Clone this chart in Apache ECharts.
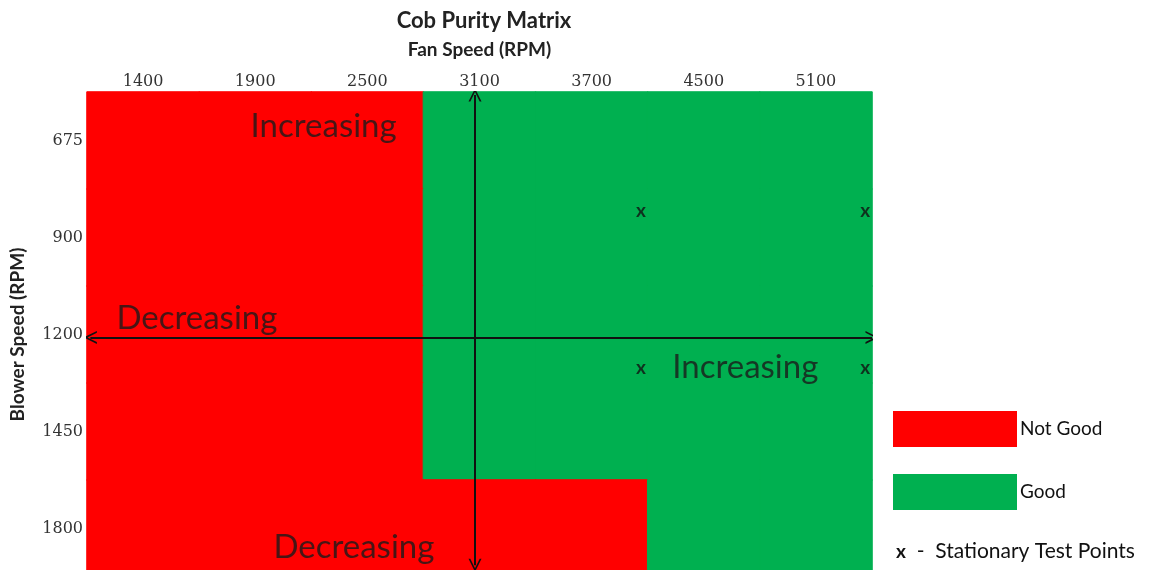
<!DOCTYPE html>
<html>
<head>
<meta charset="utf-8">
<script src="https://cdn.jsdelivr.net/npm/echarts@6/dist/echarts.min.js"></script>
<style>html,body{margin:0;padding:0;background:#fff}#c{width:1154px;height:570px}</style>
</head>
<body>
<div id="c"></div>
<script>
// Category axes
const fanSpeeds = ['1400', '1900', '2500', '3100', '3700', '4500', '5100'];
const blowerSpeeds = ['675', '900', '1200', '1450', '1800'];
// Purity status per row (blower speed) and column (fan speed): 0 = Not Good, 1 = Good
const statusRows = [
  [0, 0, 0, 1, 1, 1, 1],
  [0, 0, 0, 1, 1, 1, 1],
  [0, 0, 0, 1, 1, 1, 1],
  [0, 0, 0, 1, 1, 1, 1],
  [0, 0, 0, 0, 0, 1, 1]
];
const statusNames = ['Not Good', 'Good'];
const statusColors = ['#ff0000', '#00b050'];
// Stationary test points in cell units (column, row)
const testPointsX = [4.94, 6.94, 4.94, 6.94];
const testPointsY = [1.23, 1.23, 2.84, 2.84];
// Direction arrows in cell units
const arrowVertical = [[3.46, 0.03], [3.46, 4.88]];
const arrowHorizontal = [[0.03, 2.53], [7.0, 2.53]];
// Direction annotations in cell units
const annotText = ['Increasing', 'Decreasing', 'Increasing', 'Decreasing'];
const annotX = [2.11, 0.98, 5.87, 2.38];
const annotY = [0.35, 2.33, 2.84, 4.69];

const heatData = [];
statusRows.forEach((row, r) => row.forEach((v, c) => heatData.push({
  value: [c, r, v],
  itemStyle: { borderColor: statusColors[v], borderWidth: 1 }
})));

const chevron = 'path://M0,10 L5,0 L10,10 L8.6,10 L5,2.8 L1.4,10 Z';
const sans = 'Lato, "Open Sans", sans-serif';
const serif = '"DejaVu Serif", serif';

const chart = echarts.init(document.getElementById('c'));
chart.setOption({
  animation: false,
  title: {
    text: 'Cob Purity Matrix',
    left: 479, top: 5, textAlign: 'center',
    textStyle: { fontFamily: sans, fontWeight: 'bold', fontSize: 22, color: '#222' }
  },
  grid: { left: 87, top: 92, width: 785, height: 485, outerBoundsMode: 'none', containLabel: false },
  xAxis: [{
    type: 'category', data: fanSpeeds, position: 'top',
    name: 'Fan Speed (RPM)', nameLocation: 'middle', nameGap: 33,
    nameTextStyle: { fontFamily: sans, fontWeight: 'bold', fontSize: 19, color: '#222' },
    axisLine: { show: false }, axisTick: { show: false }, splitLine: { show: false },
    axisLabel: { fontFamily: serif, fontSize: 16, color: '#333', margin: 2 }
  }, {
    type: 'value', min: 0, max: 7, show: false
  }],
  yAxis: [{
    type: 'category', data: blowerSpeeds, inverse: true,
    name: 'Blower Speed (RPM)', nameLocation: 'middle', nameGap: 60, nameRotate: 90,
    nameTextStyle: { fontFamily: sans, fontWeight: 'bold', fontSize: 19, color: '#222' },
    axisLine: { show: false }, axisTick: { show: false }, splitLine: { show: false },
    axisLabel: { fontFamily: serif, fontSize: 16, color: '#333', margin: 4 }
  }, {
    type: 'value', min: 0, max: 5, inverse: true, show: false
  }],
  visualMap: {
    type: 'piecewise', seriesIndex: 0, dimension: 2,
    pieces: [
      { value: 0, label: statusNames[0], color: statusColors[0] },
      { value: 1, label: statusNames[1], color: statusColors[1] }
    ],
    orient: 'vertical', left: 878, top: 396, inverse: true, align: 'left',
    itemWidth: 124, itemHeight: 36, itemGap: 27, itemSymbol: 'rect', textGap: 3,
    selectedMode: false, hoverLink: false,
    textStyle: { fontFamily: sans, fontSize: 19, color: '#111' }
  },
  graphic: [{
    type: 'text', left: 896, top: 541,
    style: {
      text: '{b|x}  -  Stationary Test Points',
      fontFamily: sans, fontSize: 21, fill: '#111',
      rich: { b: { fontWeight: 'bold', fontFamily: sans, fontSize: 19, fill: '#111' } }
    }
  }],
  series: [{
    type: 'heatmap', data: heatData,
    emphasis: { disabled: true }
  }, {
    type: 'lines', coordinateSystem: 'cartesian2d', xAxisIndex: 1, yAxisIndex: 1,
    polyline: false, silent: true,
    symbol: [chevron, chevron], symbolSize: [13, 13],
    lineStyle: { color: '#111', width: 2, opacity: 1, type: 'solid' },
    data: [{ coords: arrowVertical }, { coords: arrowHorizontal }]
  }, {
    type: 'scatter', xAxisIndex: 1, yAxisIndex: 1, symbolSize: 0, silent: true,
    data: testPointsX.map((x, i) => [x, testPointsY[i]]),
    label: { show: true, position: 'inside', formatter: 'x', fontFamily: sans, fontWeight: 'bold', fontSize: 19, color: '#111' }
  }, {
    type: 'scatter', xAxisIndex: 1, yAxisIndex: 1, symbolSize: 0, silent: true,
    data: annotText.map((t, i) => ({ value: [annotX[i], annotY[i]], name: t })),
    label: { show: true, position: 'inside', formatter: p => p.name, fontFamily: sans, fontSize: 33, color: '#1a1a1a' }
  }]
});
</script>
</body>
</html>
